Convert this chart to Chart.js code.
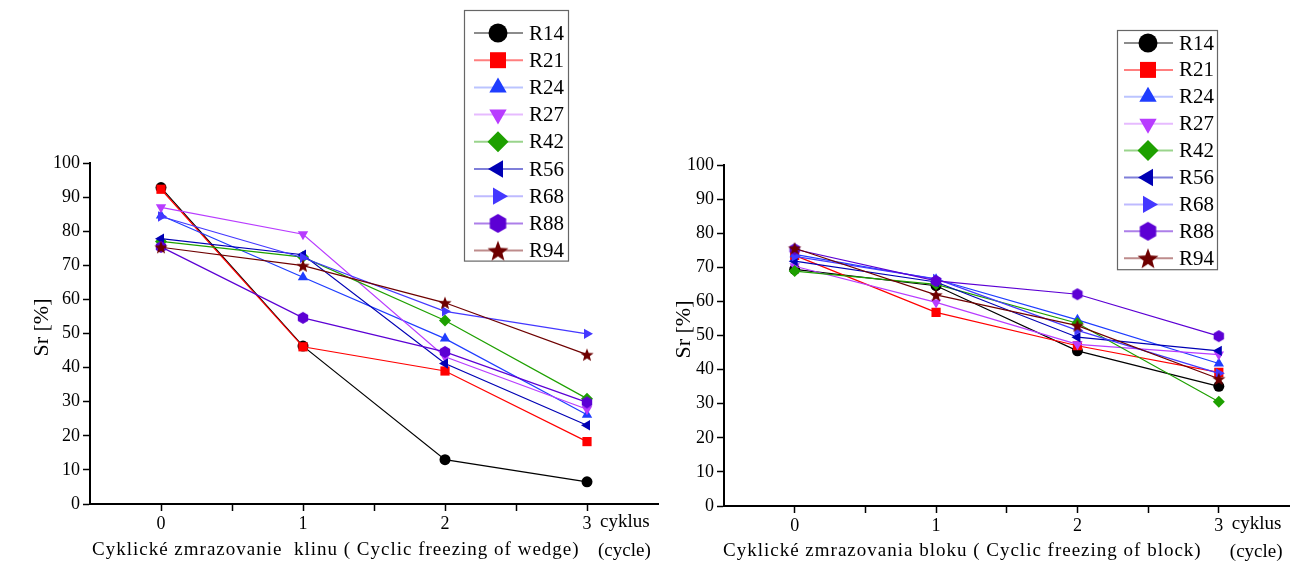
<!DOCTYPE html>
<html>
<head>
<meta charset="utf-8">
<script src="https://cdn.jsdelivr.net/npm/chart.js@4.4.1/dist/chart.umd.min.js"></script>
<style>
  html, body { margin: 0; padding: 0; background: #fff; }
  body { width: 1296px; height: 564px; position: relative; overflow: hidden; }
  #wedge-chart { position: absolute; left: 0; top: 0; }
  #block-chart { position: absolute; left: 676px; top: 0; }
</style>
</head>
<body>
<canvas id="wedge-chart" width="676" height="564"></canvas>
<canvas id="block-chart" width="620" height="564"></canvas>
<script>
/* ============================================
   Sr [%] vs. freezing cycle — wedge (left) and block (right)
   ============================================ */

const cycles = [0, 1, 2, 3];
const cycleTicks = ['0', '1', '2', '3'];
const seriesNames = ['R14', 'R21', 'R24', 'R27', 'R42', 'R56', 'R68', 'R88', 'R94'];

// Cyclic freezing of wedge, one row per series
const wedgeSr = [
  [92.8, 46.3, 13.0, 6.5],   // R14
  [92.3, 46.1, 39.0, 18.3],  // R21
  [84.6, 66.5, 48.5, 26.2],  // R24
  [87.0, 79.1, 43.2, 27.8],  // R27
  [77.0, 72.4, 53.8, 30.9],  // R42
  [77.8, 73.1, 41.2, 23.1],  // R56
  [84.3, 72.2, 56.5, 49.9],  // R68
  [75.4, 54.6, 44.6, 29.8],  // R88
  [75.3, 69.9, 59.0, 43.8]   // R94
];

// Cyclic freezing of block
const blockSr = [
  [69.4, 64.6, 45.5, 35.1],  // R14
  [73.5, 56.8, 47.0, 39.2],  // R21
  [73.8, 66.5, 54.6, 41.8],  // R24
  [70.3, 59.7, 47.4, 44.4],  // R27
  [68.9, 65.0, 53.6, 30.6],  // R42
  [71.8, 65.7, 49.5, 45.5],  // R56
  [73.2, 66.6, 51.5, 38.9],  // R68
  [75.3, 66.0, 62.1, 49.8],  // R88
  [75.6, 61.9, 52.9, 37.3]   // R94
];

const seriesColors = ['#000000', '#ff0000', '#1f3dff', '#b83cff', '#1ea000', '#0000b4', '#4438ff', '#5c00d4', '#6e0000'];
const legendLineColors = ['rgba(0,0,0,0.45)', 'rgba(255,0,0,0.5)', 'rgba(31,61,255,0.3)', 'rgba(184,60,255,0.35)',
  'rgba(30,160,0,0.45)', 'rgba(0,0,180,0.5)', 'rgba(68,56,255,0.35)', 'rgba(92,0,212,0.5)', 'rgba(110,0,0,0.45)'];

const SERIF = '"Liberation Serif", "DejaVu Serif", serif';

// Custom marker shapes (hexagon, filled star)
function hexagonMarker(color, r) {
  const s = Math.ceil(r * 2) + 2;
  const c = document.createElement('canvas');
  c.width = c.height = s;
  const g = c.getContext('2d');
  g.fillStyle = color;
  g.beginPath();
  for (let k = 0; k < 6; k++) {
    const a = -Math.PI / 2 + k * Math.PI / 3;
    g.lineTo(s / 2 + r * Math.cos(a), s / 2 + r * Math.sin(a));
  }
  g.closePath();
  g.fill();
  return c;
}

function starMarker(color, r) {
  const s = Math.ceil(r * 2) + 2;
  const c = document.createElement('canvas');
  c.width = c.height = s;
  const g = c.getContext('2d');
  g.fillStyle = color;
  g.beginPath();
  for (let k = 0; k < 10; k++) {
    const rad = k % 2 ? r * 0.42 : r;
    const a = -Math.PI / 2 + k * Math.PI / 5;
    g.lineTo(s / 2 + rad * Math.cos(a), s / 2 + (rad * Math.sin(a)) + r * 0.1);
  }
  g.closePath();
  g.fill();
  return c;
}

function markerStyles(big) {
  return [
    { style: 'circle', rot: 0, r: big ? 9.5 : 5.5 },
    { style: 'rect', rot: 0, r: big ? 11.3 : 6.5 },
    { style: 'triangle', rot: 0, r: big ? 10 : 6 },
    { style: 'triangle', rot: 180, r: big ? 10 : 6 },
    { style: 'rectRot', rot: 0, r: big ? 10.5 : 6 },
    { style: 'triangle', rot: 270, r: big ? 10 : 6 },
    { style: 'triangle', rot: 90, r: big ? 10 : 6 },
    { style: hexagonMarker(seriesColors[7], big ? 9.5 : 6), rot: 0, r: 6 },
    { style: starMarker(seriesColors[8], big ? 11 : 7), rot: 0, r: 6 }
  ];
}

// Boxed legend drawn at a fixed place above the plot
const boxLegend = {
  id: 'boxLegend',
  afterDraw(chart, args, opts) {
    const ctx = chart.ctx;
    const styles = markerStyles(true);
    const n = chart.data.datasets.length;
    const h = opts.firstRow + (n - 1) * opts.rowHeight + opts.bottomGap;
    ctx.save();
    ctx.strokeStyle = '#666';
    ctx.lineWidth = 1.2;
    ctx.strokeRect(opts.x + 0.5, opts.y + 0.5, opts.width, h);
    ctx.font = '21px ' + SERIF;
    ctx.textBaseline = 'middle';
    ctx.textAlign = 'left';
    chart.data.datasets.forEach((ds, i) => {
      const cy = opts.y + opts.firstRow + i * opts.rowHeight;
      ctx.strokeStyle = legendLineColors[i];
      ctx.lineWidth = 2;
      ctx.beginPath();
      ctx.moveTo(opts.x + opts.lineFrom, cy);
      ctx.lineTo(opts.x + opts.lineTo, cy);
      ctx.stroke();
      ctx.fillStyle = seriesColors[i];
      Chart.helpers.drawPoint(ctx, {
        pointStyle: styles[i].style, rotation: styles[i].rot, radius: styles[i].r, borderWidth: 0
      }, opts.x + opts.markerX, cy);
      ctx.fillStyle = '#000';
      ctx.fillText(ds.label, opts.x + opts.textX, cy + 1);
    });
    ctx.restore();
  }
};

// Axis titles and the "cyklus (cycle)" unit
const axisText = {
  id: 'axisText',
  afterDraw(chart, args, opts) {
    const ctx = chart.ctx;
    const area = chart.chartArea;
    const xs = chart.scales.x;
    ctx.save();
    ctx.fillStyle = '#000';
    ctx.textBaseline = 'middle';

    ctx.font = '22px ' + SERIF;
    ctx.save();
    ctx.translate(area.left - opts.yTitleGap, (area.top + area.bottom) / 2 - 6);
    ctx.rotate(-Math.PI / 2);
    ctx.textAlign = 'center';
    ctx.fillText('Sr [%]', 0, 0);
    ctx.restore();

    ctx.textAlign = 'left';
    ctx.font = '19px ' + SERIF;
    ctx.letterSpacing = '1px';
    ctx.fillText(opts.xTitle, area.left + opts.xTitleShift, area.bottom + opts.xTitleGap);
    ctx.letterSpacing = '0px';

    const ux = xs.getPixelForValue(cycles[cycles.length - 1]) + 13;
    ctx.fillText('cyklus', ux, area.bottom + 18);
    ctx.fillText('(cycle)', ux - 2, area.bottom + opts.xTitleGap + 1);
    ctx.restore();
  }
};

function buildChart(canvasId, values, cfg) {
  const styles = markerStyles(false);
  const datasets = seriesNames.map((name, i) => ({
    label: name,
    data: cycles.map((c, j) => ({ x: c, y: values[i][j] })),
    borderColor: seriesColors[i],
    backgroundColor: seriesColors[i],
    pointBackgroundColor: seriesColors[i],
    pointBorderColor: seriesColors[i],
    pointBorderWidth: 0,
    pointStyle: styles[i].style,
    pointRotation: styles[i].rot,
    pointRadius: styles[i].r,
    borderWidth: 1.2,
    order: seriesNames.length - i
  }));

  return new Chart(document.getElementById(canvasId), {
    type: 'line',
    data: { datasets },
    options: {
      responsive: false,
      animation: false,
      events: [],
      layout: { padding: { top: cfg.top, right: cfg.right, left: 0, bottom: 0 } },
      scales: {
        x: {
          type: 'linear',
          min: -0.5,
          max: 3.5,
          afterFit(scale) { scale.height = cfg.xHeight; },
          ticks: {
            stepSize: 0.5,
            autoSkip: false,
            maxRotation: 0,
            padding: 2,
            color: '#000',
            font: { family: SERIF, size: 18 },
            callback: (v) => {
              const k = cycles.indexOf(v);
              return k >= 0 ? cycleTicks[k] : '';
            }
          },
          grid: {
            drawOnChartArea: false,
            tickLength: 7,
            tickWidth: 1.5,
            tickColor: (ctx) => (ctx.tick && (ctx.tick.value === -0.5 || ctx.tick.value === 3.5)) ? 'rgba(0,0,0,0)' : '#000'
          },
          border: { color: '#000', width: 2 }
        },
        y: {
          min: 0,
          max: 100,
          afterFit(scale) { scale.width = cfg.yWidth; },
          ticks: {
            stepSize: 5,
            padding: 3,
            color: '#000',
            font: { family: SERIF, size: 18 },
            callback: (v) => (v % 10 === 0 ? String(v) : '')
          },
          grid: {
            drawOnChartArea: false,
            tickLength: 7,
            tickWidth: 1.5,
            tickColor: '#000'
          },
          border: { color: '#000', width: 2 }
        }
      },
      plugins: {
        legend: { display: false },
        tooltip: { enabled: false },
        boxLegend: cfg.legend,
        axisText: cfg.text
      }
    },
    plugins: [boxLegend, axisText]
  });
}

buildChart('wedge-chart', wedgeSr, {
  top: 163, right: 18, xHeight: 60, yWidth: 90,
  legend: { x: 464, y: 10, width: 104, firstRow: 23, rowHeight: 27.2, bottomGap: 10, lineFrom: 10, lineTo: 59, markerX: 34, textX: 65 },
  text: { yTitleGap: 48, xTitle: 'Cyklické zmrazovanie  klinu ( Cyclic freezing of wedge)', xTitleShift: 2, xTitleGap: 46 }
});

buildChart('block-chart', blockSr, {
  top: 165, right: 1, xHeight: 58, yWidth: 48,
  legend: { x: 441, y: 30, width: 100, firstRow: 13, rowHeight: 26.9, bottomGap: 11, lineFrom: 7, lineTo: 56, markerX: 31, textX: 62 },
  text: { yTitleGap: 40, xTitle: 'Cyklické zmrazovania bloku ( Cyclic freezing of block)', xTitleShift: -1, xTitleGap: 45 }
});
</script>
</body>
</html>
